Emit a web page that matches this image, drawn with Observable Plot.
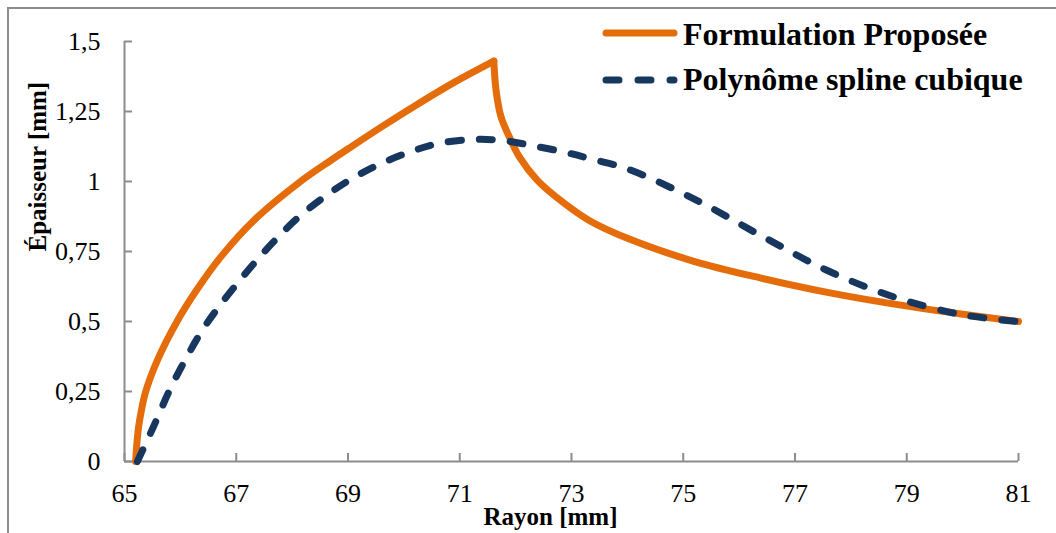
<!DOCTYPE html>
<html><head><meta charset="utf-8">
<script src="https://cdn.jsdelivr.net/npm/d3@7"></script>
<script src="https://cdn.jsdelivr.net/npm/@observablehq/plot@0.6"></script>
<style>
body{margin:0;background:#fff;overflow:hidden;font-family:"Liberation Serif","Times New Roman",serif;}
#wrap{position:relative;width:1056px;height:533px;overflow:hidden;}
#border{position:absolute;left:7px;top:7px;width:1200px;height:700px;border:2px solid #8c8c8c;box-sizing:border-box;}
#chart{position:absolute;left:0;top:0;}
#legend{position:absolute;left:0;top:0;}
</style></head><body>
<div id="wrap"><div id="border"></div><div id="chart"></div>
<svg id="legend" width="1056" height="110" font-family="Liberation Serif, Times New Roman, serif" font-weight="bold" font-size="32">
</svg></div>
<script>
// ---- data ----
const seriesNames = ["Formulation Proposée", "Polynôme spline cubique"];
const xLabel = "Rayon [mm]";
const yLabel = "Épaisseur [mm]";
const xTicks = [65, 67, 69, 71, 73, 75, 77, 79, 81];
const yTicks = [0, 0.25, 0.5, 0.75, 1, 1.25, 1.5];

const radiusFormulation = [65.2, 65.22, 65.25, 65.3, 65.38, 65.59, 65.94, 66.3, 66.72, 67.31, 68.15, 68.69, 69.05, 69.6, 70.18, 70.9, 71.61, 71.65, 71.74, 71.89, 72.07, 72.39, 72.87, 73.34, 74.0, 75.19, 76.39, 77.58, 78.78, 79.97, 81.0];
const thicknessFormulation = [0, 0.06, 0.12, 0.18, 0.25, 0.362, 0.5, 0.615, 0.73, 0.86, 1.0, 1.075, 1.123, 1.195, 1.268, 1.354, 1.43, 1.325, 1.23, 1.158, 1.087, 1.004, 0.922, 0.858, 0.797, 0.715, 0.655, 0.604, 0.562, 0.527, 0.50];

const radiusSpline = [65.23, 65.52, 65.82, 66.12, 66.39, 66.66, 66.96, 67.32, 67.67, 68.09, 68.57, 69.05, 69.58, 70.1, 70.6, 71.25, 71.79, 72.3, 72.87, 73.34, 74.0, 75.19, 76.39, 77.58, 78.78, 79.97, 81.0];
const thicknessSpline = [0, 0.125, 0.26, 0.375, 0.468, 0.545, 0.622, 0.708, 0.785, 0.868, 0.944, 1.008, 1.063, 1.105, 1.135, 1.15, 1.146, 1.128, 1.105, 1.081, 1.045, 0.938, 0.807, 0.682, 0.587, 0.525, 0.5];

const colors = ["#E46C0A", "#17375E"];

// ---- tables ----
const formulation = radiusFormulation.map((r, i) => ({r, e: thicknessFormulation[i]}));
const peak = thicknessFormulation.indexOf(d3.max(thicknessFormulation));
const rising = formulation.slice(0, peak + 1);
const falling = formulation.slice(peak);
const spline = radiusSpline.map((r, i) => ({r, e: thicknessSpline[i]}));
const fmt = d => String(d).replace(".", ",");
const font = '"Liberation Serif","Times New Roman",serif';
const orangeStyle = {x: "r", y: "e", stroke: colors[0], strokeWidth: 7, curve: "catmull-rom", strokeLinecap: "round", strokeLinejoin: "round"};

const chart = Plot.plot({
  width: 1056, height: 533,
  marginLeft: 124, marginRight: 38, marginTop: 41, marginBottom: 72,
  style: {fontFamily: font, fontSize: "26px", color: "#000", background: "transparent", overflow: "visible"},
  x: {domain: [65, 81]},
  y: {domain: [0, 1.5]},
  marks: [
    Plot.ruleX([65], {stroke: "#8c8c8c", strokeWidth: 2}),
    Plot.ruleY([0], {stroke: "#8c8c8c", strokeWidth: 2}),
    Plot.axisY(yTicks, {tickSize: -8, tickPadding: 32, tickFormat: fmt, stroke: "#8c8c8c", strokeWidth: 2, label: null, fontSize: 26}),
    Plot.axisX(xTicks, {tickSize: -8, tickPadding: 30, tickFormat: d => String(d), stroke: "#8c8c8c", strokeWidth: 2, label: null, fontSize: 26}),
    Plot.text([yLabel], {frameAnchor: "left", rotate: -90, dx: -79, lineAnchor: "bottom", fontWeight: "bold", fontSize: 25, fill: "#000"}),
    Plot.text([xLabel], {frameAnchor: "bottom", dx: -21, dy: 63, lineAnchor: "bottom", fontWeight: "bold", fontSize: 25, fill: "#000"}),
    Plot.line(rising, orangeStyle),
    Plot.line(falling, orangeStyle),
    Plot.line(spline, {x: "r", y: "e", stroke: colors[1], strokeWidth: 7, curve: "catmull-rom", strokeLinecap: "round", strokeLinejoin: "round", strokeDasharray: "13,18"})
  ]
});
document.getElementById("chart").appendChild(chart);

// ---- legend ----
const lg = d3.select("#legend");
const rows = [{y: 33, ty: 45, dash: null}, {y: 80, ty: 90, dash: "13,19"}];
seriesNames.forEach((name, i) => {
  const l = lg.append("line").attr("x1", 606).attr("x2", 674).attr("y1", rows[i].y).attr("y2", rows[i].y)
    .attr("stroke", colors[i]).attr("stroke-width", 7).attr("stroke-linecap", "round");
  if (rows[i].dash) l.attr("stroke-dasharray", rows[i].dash);
  lg.append("text").attr("x", 683).attr("y", rows[i].ty).attr("fill", "#000").text(name);
});
</script>
</body></html>
